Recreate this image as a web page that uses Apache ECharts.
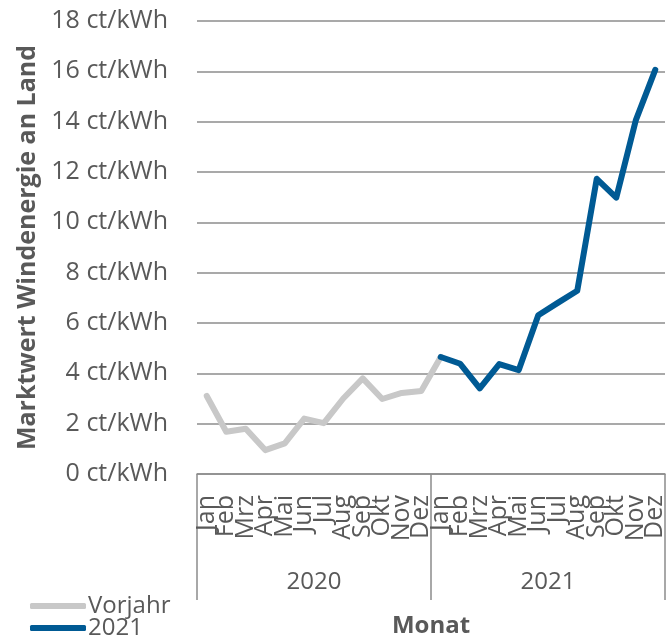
<!DOCTYPE html>
<html>
<head>
<meta charset="utf-8">
<script src="https://cdn.jsdelivr.net/npm/echarts@6/dist/echarts.min.js"></script>
<style>
  html, body { margin: 0; padding: 0; background: #fff; }
  #chart { width: 672px; height: 639px; }
</style>
</head>
<body>
<div id="chart"></div>
<script>
// Monate (zwei Jahre) und Jahresgruppen
const months = ['Jan', 'Feb', 'Mrz', 'Apr', 'Mai', 'Jun', 'Jul', 'Aug', 'Sep', 'Okt', 'Nov', 'Dez',
  'Jan', 'Feb', 'Mrz', 'Apr', 'Mai', 'Jun', 'Jul', 'Aug', 'Sep', 'Okt', 'Nov', 'Dez']
const years = ['2020', '2021']
// Vorjahr 2020 (plus Verbindung zu Jan 2021)
const vorjahr = [3.1, 1.68, 1.8, 0.95, 1.22, 2.2, 2.02, 3.0, 3.8, 2.98, 3.22, 3.3,
  4.65, null, null, null, null, null, null, null, null, null, null, null]
// 2021
const jahr2021 = [null, null, null, null, null, null, null, null, null, null, null, null,
  4.65, 4.38, 3.4, 4.37, 4.13, 6.31, 6.8, 7.28, 11.73, 10.98, 14.05, 16.06]

const textColor = '#595959'
const lineGray = '#8c8c8c'
const font = 'Open Sans'

const chart = echarts.init(document.getElementById('chart'))
const legendBase = {
  orient: 'vertical',
  left: 25,
  itemWidth: 56,
  itemHeight: 6,
  itemGap: 4,
  icon: 'roundRect',
  textStyle: { fontSize: 24, color: textColor, fontFamily: font, padding: [0, 0, 0, -3] }
}
const option = {
  animation: false,
  textStyle: { fontFamily: font },
  grid: { left: 197, right: 7, top: 21, bottom: 165, containLabel: false, outerBoundsMode: 'none' },
  legend: [
    Object.assign({}, legendBase, { top: 589, data: ['Vorjahr'] }),
    Object.assign({}, legendBase, { top: 611, data: ['2021'] })
  ],
  xAxis: [
    {
      type: 'category',
      data: months,
      boundaryGap: true,
      axisLine: { show: true, lineStyle: { color: lineGray, width: 1.5 } },
      axisTick: { show: false },
      axisLabel: {
        interval: 0,
        rotate: 90,
        margin: 21,
        fontSize: 25,
        color: textColor,
        fontFamily: font
      }
    },
    {
      type: 'category',
      data: years,
      position: 'bottom',
      boundaryGap: true,
      axisLine: { show: false },
      axisTick: {
        show: true,
        interval: 0,
        length: 126,
        lineStyle: { color: lineGray, width: 1.5 }
      },
      axisLabel: {
        interval: 0,
        margin: 96,
        fontSize: 24,
        color: textColor,
        fontFamily: font
      },
      name: 'Monat',
      nameLocation: 'middle',
      nameGap: 140,
      nameTextStyle: { fontSize: 24, fontWeight: 'bold', color: textColor, fontFamily: font }
    }
  ],
  yAxis: {
    type: 'value',
    min: 0,
    max: 18,
    interval: 2,
    axisLine: { show: false },
    axisTick: { show: false },
    splitLine: { lineStyle: { color: lineGray, width: 1.5 } },
    axisLabel: {
      margin: 29,
      fontSize: 25,
      color: textColor,
      fontFamily: font,
      formatter: v => v + ' ct/kWh'
    },
    name: 'Marktwert Windenergie an Land',
    nameLocation: 'middle',
    nameGap: 157,
    nameTextStyle: { fontSize: 25, fontWeight: 'bold', color: textColor, fontFamily: font }
  },
  series: [
    {
      name: 'Vorjahr',
      type: 'line',
      data: vorjahr,
      symbol: 'none',
      lineStyle: { color: '#c8c8c8', width: 6, cap: 'round', join: 'round' },
      itemStyle: { color: '#c8c8c8' }
    },
    {
      name: '2021',
      type: 'line',
      data: jahr2021,
      symbol: 'none',
      lineStyle: { color: '#005a94', width: 6, cap: 'round', join: 'round' },
      itemStyle: { color: '#005a94' }
    }
  ]
}
chart.setOption(option)
</script>
</body>
</html>
